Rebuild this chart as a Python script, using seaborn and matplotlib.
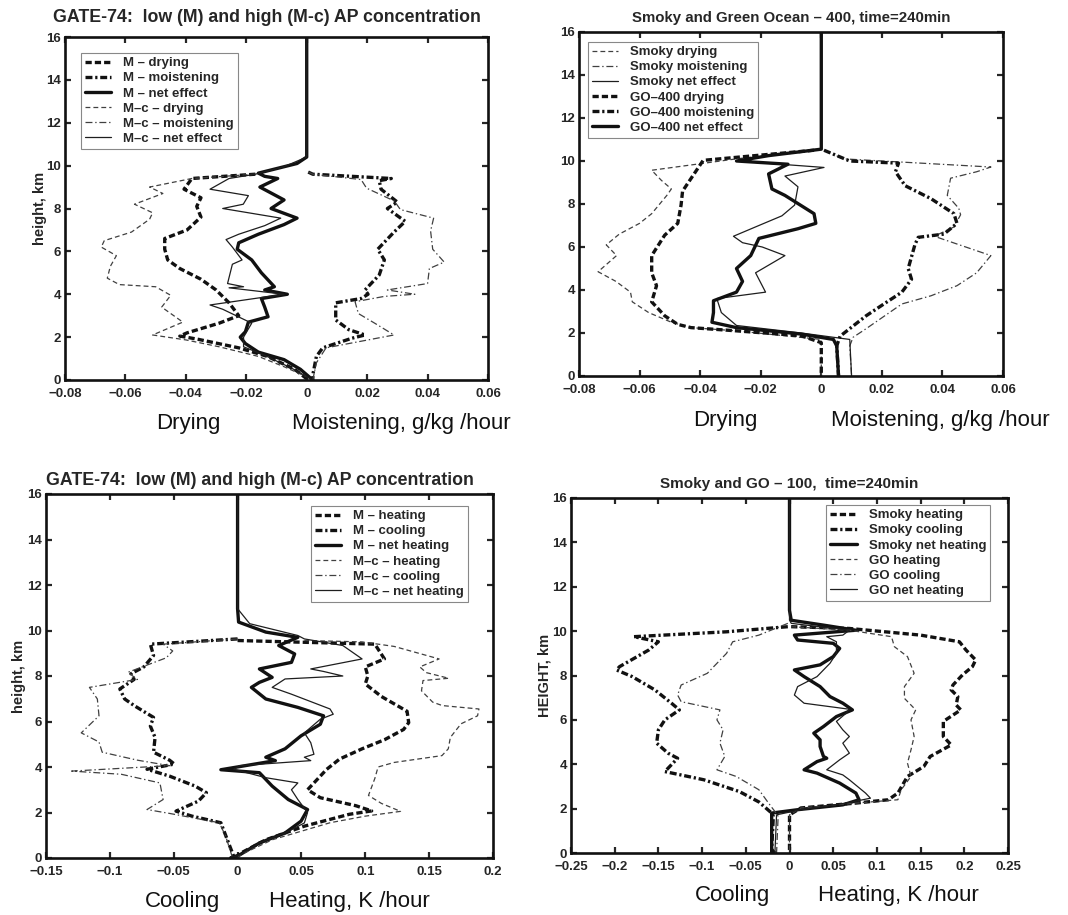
import numpy as np
import pandas as pd
import matplotlib
matplotlib.use("Agg")
import matplotlib.pyplot as plt
import seaborn as sns
from matplotlib.ticker import FixedLocator, FixedFormatter

# ---------------------------------------------------------------------------
# Panel A: GATE-74, moisture tendencies (g/kg/hour) versus height (km)
# ---------------------------------------------------------------------------
A_M_DRY_Z = [9.6, 9.4, 8.9, 8.5, 8.1, 7.6, 7.0, 6.6, 6.1, 5.6, 5.2, 4.7, 4.2, 3.6, 3.0, 2.65, 2.2, 2.05, 1.9, 1.5, 1.1, 0.5, 0.0]
A_M_DRY_Q = [-0.017, -0.038, -0.0406, -0.035, -0.0364, -0.035, -0.0396, -0.047, -0.047, -0.046, -0.042, -0.035, -0.030, -0.0257, -0.0225, -0.029, -0.0396, -0.042, -0.036, -0.0225, -0.013, -0.004, 0.0005]

A_M_MOIST_Z = [9.7, 9.6, 9.4, 9.3, 8.9, 8.3, 8.0, 7.4, 6.9, 6.1, 5.6, 4.9, 4.2, 4.0, 3.8, 3.6, 2.8, 2.35, 2.1, 1.95, 1.5, 1.1, 0.3, 0.0]
A_M_MOIST_Q = [0.0005, 0.002, 0.028, 0.024, 0.0246, 0.030, 0.0267, 0.0326, 0.0289, 0.0235, 0.0257, 0.024, 0.0193, 0.0203, 0.018, 0.0096, 0.0096, 0.0139, 0.0193, 0.015, 0.0053, 0.0032, 0.0021, 0.002]

A_M_NET_Z = [16.0, 10.4, 10.1, 9.65, 9.5, 9.4, 9.0, 8.4, 8.0, 7.55, 7.25, 6.8, 6.4, 6.1, 5.6, 5.0, 4.35, 4.2, 4.0, 3.8, 3.4, 2.95, 2.7, 2.25, 2.0, 1.7, 1.3, 0.95, 0.5, 0.0]
A_M_NET_Q = [0.0, 0.0, -0.0032, -0.016, -0.0139, -0.0096, -0.0155, -0.0075, -0.0118, -0.0032, -0.0075, -0.016, -0.0225, -0.023, -0.0182, -0.015, -0.0107, -0.0139, -0.0064, -0.015, -0.0139, -0.0128, -0.0193, -0.0203, -0.022, -0.0203, -0.016, -0.0075, -0.0021, 0.002]

A_MC_DRY_Z = [9.6, 9.4, 9.0, 8.7, 8.2, 7.8, 7.5, 6.9, 6.5, 6.2, 5.8, 5.3, 4.75, 4.45, 4.35, 3.95, 3.4, 2.7, 2.1, 1.87, 1.55, 1.1, 0.62, 0.15]
A_MC_DRY_Q = [-0.017, -0.038, -0.052, -0.0476, -0.057, -0.051, -0.052, -0.058, -0.067, -0.068, -0.063, -0.065, -0.066, -0.062, -0.050, -0.045, -0.048, -0.041, -0.051, -0.040, -0.029, -0.016, -0.0075, 0.0]

A_MC_MOIST_Z = [9.7, 9.6, 9.35, 8.95, 8.35, 7.95, 7.55, 6.95, 6.1, 5.5, 5.2, 4.5, 4.2, 4.0, 3.9, 3.65, 3.1, 2.65, 2.1, 1.87, 1.5, 0.8, 0.0]
A_MC_MOIST_Q = [0.0005, 0.002, 0.018, 0.0198, 0.029, 0.031, 0.042, 0.041, 0.0417, 0.0455, 0.0406, 0.040, 0.0267, 0.0358, 0.0257, 0.016, 0.0171, 0.0225, 0.0289, 0.0203, 0.0064, 0.0032, 0.002]

A_MC_NET_Z = [16.0, 10.4, 9.95, 9.6, 9.4, 8.9, 8.6, 8.2, 8.0, 7.55, 7.2, 6.8, 6.55, 6.2, 5.6, 5.4, 4.5, 4.35, 4.3, 4.0, 3.5, 3.3, 2.65, 2.0, 1.55, 1.15, 0.5, 0.0]
A_MC_NET_Q = [0.0, 0.0, -0.0075, -0.017, -0.0257, -0.032, -0.0193, -0.021, -0.0278, -0.0086, -0.0139, -0.0225, -0.0267, -0.0246, -0.0214, -0.0246, -0.0262, -0.0209, -0.0257, -0.0075, -0.032, -0.0278, -0.0182, -0.0209, -0.0209, -0.0139, -0.0043, 0.002]

# ---------------------------------------------------------------------------
# Panel B: Smoky and Green Ocean - 400, moisture tendencies
# ---------------------------------------------------------------------------
B_S_DRY_Z = [10.5, 10.1, 9.57, 9.1, 8.7, 8.4, 7.55, 7.1, 6.6, 6.1, 5.6, 4.85, 4.4, 3.9, 3.45, 2.95, 2.5, 2.25, 2.1, 1.7, 0.0]
B_S_DRY_Q = [-0.0024, -0.028, -0.056, -0.0528, -0.0495, -0.051, -0.056, -0.060, -0.0667, -0.071, -0.0676, -0.0737, -0.0678, -0.063, -0.0624, -0.057, -0.0495, -0.043, -0.028, 0.0, 0.0]

B_S_MOIST_Z = [10.5, 10.1, 9.72, 9.5, 9.2, 8.4, 7.8, 7.5, 6.93, 6.5, 5.6, 4.8, 4.2, 3.73, 3.35, 2.2, 1.8, 1.4, 0.0]
B_S_MOIST_Q = [0.0009, 0.0073, 0.056, 0.0513, 0.0427, 0.0416, 0.0454, 0.046, 0.0438, 0.0373, 0.056, 0.0513, 0.0448, 0.0362, 0.0266, 0.0148, 0.0105, 0.0094, 0.010]

B_S_NET_Z = [16.0, 10.55, 10.25, 10.0, 9.7, 9.3, 8.8, 7.95, 7.45, 7.0, 6.5, 6.2, 6.0, 5.6, 4.8, 4.2, 3.9, 3.6, 2.95, 2.35, 2.0, 1.7, 0.0]
B_S_NET_Q = [0.0, 0.0, -0.0174, -0.028, 0.0009, -0.012, -0.0077, -0.0088, -0.013, -0.0206, -0.029, -0.026, -0.0195, -0.012, -0.0217, -0.0195, -0.0184, -0.0345, -0.033, -0.028, -0.0066, 0.0094, 0.010]

B_G_DRY_Z = [10.5, 10.03, 9.4, 8.6, 7.95, 7.1, 6.55, 5.6, 4.8, 4.2, 3.45, 2.8, 2.4, 2.25, 2.1, 1.87, 1.55, 0.0]
B_G_DRY_Q = [-0.0024, -0.039, -0.042, -0.0458, -0.0463, -0.0474, -0.0517, -0.056, -0.056, -0.0544, -0.056, -0.0517, -0.0474, -0.043, -0.028, -0.0066, 0.0, 0.0]

B_G_MOIST_Z = [10.5, 10.0, 9.9, 9.5, 8.85, 8.25, 7.55, 7.1, 6.6, 6.45, 6.1, 5.0, 4.5, 3.9, 3.4, 2.8, 1.85, 1.4, 0.0]
B_G_MOIST_Q = [0.0009, 0.0094, 0.0255, 0.0245, 0.0277, 0.0362, 0.0438, 0.0448, 0.0405, 0.032, 0.0309, 0.0287, 0.0298, 0.0266, 0.0212, 0.0148, 0.0062, 0.0051, 0.0057]

B_G_NET_Z = [16.0, 10.55, 10.25, 10.0, 9.85, 9.4, 8.7, 8.4, 7.55, 7.1, 6.85, 6.4, 5.6, 5.0, 4.4, 3.9, 3.5, 2.95, 2.5, 2.25, 1.95, 1.7, 1.4, 0.0]
B_G_NET_Q = [0.0, 0.0, -0.0174, -0.028, -0.011, -0.0174, -0.0163, -0.012, -0.0024, -0.0018, -0.0077, -0.0206, -0.0233, -0.028, -0.026, -0.028, -0.0356, -0.0356, -0.0361, -0.028, -0.0066, 0.004, 0.0051, 0.0057]

# ---------------------------------------------------------------------------
# Panel C: GATE-74, heating rates (K/hour)
# ---------------------------------------------------------------------------
C_M_HEAT_Z = [9.56, 9.4, 8.75, 8.4, 8.0, 7.65, 7.1, 6.45, 5.95, 5.65, 5.2, 4.8, 4.35, 3.9, 3.0, 2.65, 2.3, 2.07, 1.92, 1.4, 0.8, 0.2, 0.0]
C_M_HEAT_Q = [0.0, 0.1075, 0.115, 0.100, 0.102, 0.100, 0.1126, 0.1327, 0.134, 0.130, 0.1151, 0.0975, 0.0799, 0.0698, 0.0548, 0.0648, 0.0925, 0.105, 0.0874, 0.0523, 0.0221, 0.002, -0.0005]

C_M_COOL_Z = [9.63, 9.4, 8.9, 8.4, 8.1, 7.85, 7.43, 6.99, 6.7, 6.18, 5.8, 5.3, 4.65, 4.3, 4.13, 3.9, 3.6, 3.16, 2.87, 2.5, 2.06, 1.84, 1.55, 0.8, 0.07, 0.0]
C_M_COOL_Q = [0.0, -0.0683, -0.0658, -0.0734, -0.0834, -0.081, -0.0922, -0.0884, -0.081, -0.0658, -0.0683, -0.0646, -0.0658, -0.0533, -0.0495, -0.0709, -0.0533, -0.0332, -0.0244, -0.0307, -0.0482, -0.0357, -0.0131, -0.008, -0.003, -0.0055]

C_M_NET_Z = [16.0, 10.96, 10.37, 9.93, 9.7, 9.34, 8.97, 8.6, 8.31, 7.94, 7.72, 7.5, 6.99, 6.62, 6.25, 5.88, 5.37, 4.8, 4.43, 4.28, 3.88, 3.75, 3.16, 2.57, 2.13, 1.62, 1.1, 0.66, 0.15, 0.0]
C_M_NET_Q = [0.0, 0.0, 0.0008, 0.0221, 0.0472, 0.0322, 0.0447, 0.0422, 0.0171, 0.0271, 0.0171, 0.0108, 0.0221, 0.0472, 0.0673, 0.0648, 0.0497, 0.0372, 0.0221, 0.0296, -0.0131, 0.0171, 0.0271, 0.0397, 0.0548, 0.0497, 0.0372, 0.0171, 0.002, -0.0055]

C_MC_HEAT_Z = [9.56, 9.5, 9.3, 8.75, 8.4, 8.15, 7.9, 7.8, 7.35, 6.85, 6.7, 6.55, 6.25, 5.9, 5.3, 4.8, 4.5, 4.2, 4.0, 3.5, 2.75, 2.4, 2.05, 1.84, 1.55, 0.8, 0.2, 0.0]
C_MC_HEAT_Q = [0.0523, 0.0975, 0.1226, 0.1578, 0.1427, 0.1477, 0.1653, 0.1452, 0.144, 0.1528, 0.1603, 0.189, 0.1879, 0.175, 0.1666, 0.165, 0.160, 0.1226, 0.110, 0.1075, 0.1025, 0.1126, 0.1276, 0.100, 0.0724, 0.0271, 0.0045, -0.0005]

C_MC_COOL_Z = [9.63, 9.4, 9.1, 8.8, 8.16, 7.85, 7.5, 6.99, 6.25, 5.5, 5.1, 4.65, 4.3, 4.06, 3.82, 3.68, 3.3, 2.57, 2.13, 1.96, 1.55, 0.96, 0.07]
C_MC_COOL_Q = [0.0, -0.0583, -0.0508, -0.0558, -0.086, -0.0784, -0.116, -0.1098, -0.1085, -0.1224, -0.1085, -0.106, -0.0784, -0.0533, -0.1299, -0.091, -0.0608, -0.0583, -0.0709, -0.0533, -0.0143, -0.0093, -0.0043]

C_MC_NET_Z = [16.0, 10.96, 10.3, 9.78, 9.63, 9.34, 8.75, 8.31, 8.2, 8.0, 7.87, 7.5, 7.2, 6.55, 6.32, 6.1, 5.5, 5.07, 4.56, 4.43, 4.28, 4.06, 3.9, 3.53, 3.3, 3.0, 2.57, 2.0, 1.54, 1.1, 0.66, 0.15, 0.0]
C_MC_NET_Q = [0.0, 0.0, 0.0095, 0.0472, 0.0523, 0.0824, 0.0975, 0.0573, 0.0673, 0.0824, 0.0372, 0.0271, 0.0422, 0.0724, 0.0749, 0.0648, 0.0523, 0.0573, 0.0598, 0.0523, 0.0573, 0.002, -0.003, 0.0221, 0.0472, 0.0422, 0.0472, 0.0548, 0.0523, 0.0372, 0.0171, 0.002, -0.0055]

# ---------------------------------------------------------------------------
# Panel D: Smoky and GO - 100, heating rates
# ---------------------------------------------------------------------------
D_S_HEAT_Z = [10.2, 10.12, 9.82, 9.52, 9.15, 8.7, 8.4, 8.03, 7.57, 7.35, 7.05, 6.67, 6.45, 5.93, 5.25, 4.87, 4.35, 3.9, 3.45, 2.7, 2.4, 2.25, 2.03, 1.72, 0.0]
D_S_HEAT_Q = [0.0019, 0.0685, 0.150, 0.1944, 0.2019, 0.213, 0.2093, 0.198, 0.187, 0.185, 0.1926, 0.1907, 0.196, 0.176, 0.176, 0.185, 0.161, 0.1537, 0.135, 0.124, 0.113, 0.076, 0.013, 0.0, 0.0]

D_S_COOL_Z = [10.2, 9.97, 9.75, 9.52, 9.15, 8.4, 8.25, 7.95, 7.35, 6.75, 6.45, 6.0, 5.55, 4.95, 4.5, 4.27, 3.67, 3.3, 2.77, 2.3, 1.8, 1.65, 0.15, 0.0]
D_S_COOL_Q = [-0.0019, -0.072, -0.178, -0.150, -0.161, -0.1944, -0.198, -0.180, -0.154, -0.135, -0.126, -0.1426, -0.150, -0.152, -0.139, -0.128, -0.1426, -0.098, -0.0574, -0.035, -0.0204, -0.0185, -0.0204, -0.0167]

D_S_NET_Z = [16.0, 10.94, 10.49, 10.27, 10.04, 9.82, 9.6, 9.45, 9.22, 8.85, 8.48, 8.25, 7.95, 7.5, 7.05, 6.75, 6.45, 6.15, 5.7, 5.4, 5.1, 4.8, 4.35, 4.27, 4.12, 3.75, 3.6, 3.15, 2.7, 2.4, 2.17, 1.95, 1.8, 0.0]
D_S_NET_Q = [0.0, 0.0, 0.002, 0.039, 0.076, 0.0056, 0.0093, 0.050, 0.0574, 0.050, 0.035, 0.0056, 0.0167, 0.035, 0.0463, 0.0611, 0.072, 0.0537, 0.0389, 0.0278, 0.035, 0.035, 0.0389, 0.0426, 0.0315, 0.0167, 0.0315, 0.0574, 0.076, 0.0796, 0.061, 0.009, -0.0204, -0.0204]

D_G_HEAT_Z = [10.2, 10.04, 9.75, 9.3, 8.85, 8.1, 7.5, 6.97, 6.45, 6.0, 5.25, 4.65, 4.05, 3.45, 2.85, 2.4, 2.25, 2.03, 1.72, 0.0]
D_G_HEAT_Q = [0.002, 0.0685, 0.1167, 0.120, 0.135, 0.1426, 0.1315, 0.1315, 0.1444, 0.139, 0.1426, 0.139, 0.135, 0.139, 0.1278, 0.124, 0.076, 0.013, 0.0, 0.0]

D_G_COOL_Z = [10.35, 9.82, 9.52, 9.0, 8.1, 7.57, 7.12, 6.82, 6.45, 6.0, 5.55, 4.95, 4.35, 3.75, 3.45, 2.85, 2.25, 1.87, 1.65, 0.0]
D_G_COOL_Q = [-0.0019, -0.035, -0.065, -0.072, -0.094, -0.124, -0.128, -0.124, -0.0796, -0.083, -0.076, -0.0796, -0.074, -0.083, -0.061, -0.035, -0.024, -0.0167, -0.013, -0.0148]

D_G_NET_Z = [16.0, 10.5, 10.35, 10.04, 9.82, 9.75, 9.52, 9.0, 8.55, 7.95, 7.5, 7.12, 6.75, 6.48, 6.3, 5.93, 5.55, 5.25, 4.95, 4.5, 4.2, 3.75, 3.52, 3.3, 2.7, 2.47, 2.25, 1.95, 1.72, 0.0]
D_G_NET_Q = [0.0, 0.0, 0.002, 0.0685, 0.061, 0.0426, 0.0537, 0.0537, 0.0463, 0.0315, 0.0093, 0.0056, 0.0167, 0.0685, 0.0648, 0.0537, 0.061, 0.0685, 0.061, 0.0685, 0.0574, 0.0426, 0.061, 0.0685, 0.087, 0.0926, 0.065, 0.013, -0.0148, -0.0167]

# Axis ticks
TICKS_Y = [0, 2, 4, 6, 8, 10, 12, 14, 16]
TICKS_Q = [-0.08, -0.06, -0.04, -0.02, 0, 0.02, 0.04, 0.06]
TICKS_C = [-0.15, -0.1, -0.05, 0, 0.05, 0.1, 0.15, 0.2]
TICKS_D = [-0.25, -0.2, -0.15, -0.1, -0.05, 0, 0.05, 0.1, 0.15, 0.2, 0.25]

# ---------------------------------------------------------------------------
# Styling
# ---------------------------------------------------------------------------
sns.set_style("ticks")
plt.rcParams["font.family"] = ["Liberation Sans", "DejaVu Sans"]
plt.rcParams["lines.scale_dashes"] = False
plt.rcParams["axes.unicode_minus"] = True

THICK = 2.4
THIN = 0.9
DARK = "#111111"
GREY = "#404040"
STYLE = {
    "thick_dash": dict(linestyle=(0, (4.5, 2.2)), linewidth=THICK, color=DARK),
    "thick_dashdot": dict(linestyle=(0, (5.0, 2.0, 1.6, 2.0)), linewidth=THICK, color=DARK),
    "thick_solid": dict(linestyle="-", linewidth=THICK, color=DARK),
    "thin_dash": dict(linestyle=(0, (3.5, 2.2)), linewidth=THIN, color=GREY),
    "thin_dashdot": dict(linestyle=(0, (5.0, 2.0, 1.0, 2.0)), linewidth=THIN, color=GREY),
    "thin_solid": dict(linestyle="-", linewidth=THIN, color="#1e1e1e"),
}

FIG_W, FIG_H = 1068, 915
fig = plt.figure(figsize=(FIG_W / 100, FIG_H / 100), dpi=100)
fig.patch.set_facecolor("white")


def px_axes(left, top, right, bottom):
    return fig.add_axes([left / FIG_W, 1 - bottom / FIG_H,
                         (right - left) / FIG_W, (bottom - top) / FIG_H])


def draw_profiles(ax, series):
    for label, z, q, key in series:
        frame = pd.DataFrame({"q": q, "z": z})
        sns.lineplot(data=frame, x="q", y="z", ax=ax, sort=False,
                     estimator=None, label=label, **STYLE[key])


def finish_axes(ax, xticks, xlim, title, title_x, title_pad, title_size,
                ylabel, ylabel_pad, legend_loc, legend_anchor):
    ax.set_xlim(*xlim)
    ax.set_ylim(0, 16)
    ax.xaxis.set_major_locator(FixedLocator(xticks))
    ax.xaxis.set_major_formatter(FixedFormatter(
        [("%g" % t).replace("-", "\u2212") for t in xticks]))
    ax.yaxis.set_major_locator(FixedLocator(TICKS_Y))
    ax.yaxis.set_major_formatter(FixedFormatter(["%d" % t for t in TICKS_Y]))
    ax.tick_params(direction="in", length=4, width=1.6, top=True, right=True,
                   labelsize=9.5)
    ax.tick_params(axis="x", pad=5.5)
    ax.tick_params(axis="y", pad=3)
    for lab in ax.get_xticklabels() + ax.get_yticklabels():
        lab.set_fontweight("bold")
    for sp in ax.spines.values():
        sp.set_visible(True)
        sp.set_linewidth(1.9)
        sp.set_color("#111111")
    ax.set_xlabel("")
    ax.set_ylabel(ylabel, fontsize=10.5, fontweight="bold", labelpad=ylabel_pad)
    ax.set_title(title, fontsize=title_size, fontweight="bold", x=title_x,
                 pad=title_pad)
    leg = ax.legend(loc=legend_loc, bbox_to_anchor=legend_anchor,
                    borderaxespad=0, fancybox=False, framealpha=1,
                    edgecolor="#888888", prop=dict(size=9.5, weight="bold"),
                    handlelength=2.0, handletextpad=0.9, labelspacing=0.22,
                    borderpad=0.3)
    leg.get_frame().set_linewidth(0.8)


# Panel A ------------------------------------------------------------------
axA = px_axes(65, 37, 488, 380)
draw_profiles(axA, [
    ("M \u2013 drying", A_M_DRY_Z, A_M_DRY_Q, "thick_dash"),
    ("M \u2013 moistening", A_M_MOIST_Z, A_M_MOIST_Q, "thick_dashdot"),
    ("M \u2013 net effect", A_M_NET_Z, A_M_NET_Q, "thick_solid"),
    ("M\u2013c \u2013 drying", A_MC_DRY_Z, A_MC_DRY_Q, "thin_dash"),
    ("M\u2013c \u2013 moistening", A_MC_MOIST_Z, A_MC_MOIST_Q, "thin_dashdot"),
    ("M\u2013c \u2013 net effect", A_MC_NET_Z, A_MC_NET_Q, "thin_solid"),
])
finish_axes(axA, TICKS_Q, (-0.08, 0.06),
            "GATE-74:  low (M) and high (M-c) AP concentration", 0.478, 11, 12.8,
            "height, km", -1, "upper left", (0.038, 0.953))

# Panel B ------------------------------------------------------------------
axB = px_axes(579, 32, 1003, 376)
draw_profiles(axB, [
    ("Smoky drying", B_S_DRY_Z, B_S_DRY_Q, "thin_dash"),
    ("Smoky moistening", B_S_MOIST_Z, B_S_MOIST_Q, "thin_dashdot"),
    ("Smoky net effect", B_S_NET_Z, B_S_NET_Q, "thin_solid"),
    ("GO\u2013400 drying", B_G_DRY_Z, B_G_DRY_Q, "thick_dash"),
    ("GO\u2013400 moistening", B_G_MOIST_Z, B_G_MOIST_Q, "thick_dashdot"),
    ("GO\u2013400 net effect", B_G_NET_Z, B_G_NET_Q, "thick_solid"),
])
finish_axes(axB, TICKS_Q, (-0.08, 0.06),
            "Smoky and Green Ocean \u2013 400, time=240min", 0.5, 7.5, 10.8,
            "", 4, "upper left", (0.021, 0.971))

# Panel C ------------------------------------------------------------------
axC = px_axes(46, 494, 493, 858)
draw_profiles(axC, [
    ("M \u2013 heating", C_M_HEAT_Z, C_M_HEAT_Q, "thick_dash"),
    ("M \u2013 cooling", C_M_COOL_Z, C_M_COOL_Q, "thick_dashdot"),
    ("M \u2013 net heating", C_M_NET_Z, C_M_NET_Q, "thick_solid"),
    ("M\u2013c \u2013 heating", C_MC_HEAT_Z, C_MC_HEAT_Q, "thin_dash"),
    ("M\u2013c \u2013 cooling", C_MC_COOL_Z, C_MC_COOL_Q, "thin_dashdot"),
    ("M\u2013c \u2013 net heating", C_MC_NET_Z, C_MC_NET_Q, "thin_solid"),
])
finish_axes(axC, TICKS_C, (-0.15, 0.2),
            "GATE-74:  low (M) and high (M-c) AP concentration", 0.479, 6.5, 12.8,
            "height, km", 0.5, "upper right", (0.944, 0.967))

# Panel D ------------------------------------------------------------------
axD = px_axes(571, 498, 1008, 853)
draw_profiles(axD, [
    ("Smoky heating", D_S_HEAT_Z, D_S_HEAT_Q, "thick_dash"),
    ("Smoky cooling", D_S_COOL_Z, D_S_COOL_Q, "thick_dashdot"),
    ("Smoky net heating", D_S_NET_Z, D_S_NET_Q, "thick_solid"),
    ("GO heating", D_G_HEAT_Z, D_G_HEAT_Q, "thin_dash"),
    ("GO cooling", D_G_COOL_Z, D_G_COOL_Q, "thin_dashdot"),
    ("GO net heating", D_G_NET_Z, D_G_NET_Q, "thin_solid"),
])
finish_axes(axD, TICKS_D, (-0.25, 0.25),
            "Smoky and GO \u2013 100,  time=240min", 0.5, 7.5, 11,
            "HEIGHT, km", 0.5, "upper right", (0.959, 0.980))

# Two-sided axis captions below each panel
def caption(x, y, text):
    fig.text(x / FIG_W, 1 - y / FIG_H, text, ha="center", va="center",
             fontsize=16, color="#111111")

caption(188, 423, "Drying")
caption(401, 423, "Moistening, g/kg /hour")
caption(725, 420, "Drying")
caption(940, 420, "Moistening, g/kg /hour")
caption(182, 901, "Cooling")
caption(349, 901, "Heating, K /hour")
caption(732, 896, "Cooling")
caption(898, 896, "Heating, K /hour")

fig.savefig("out.png", dpi=100, facecolor="white")
